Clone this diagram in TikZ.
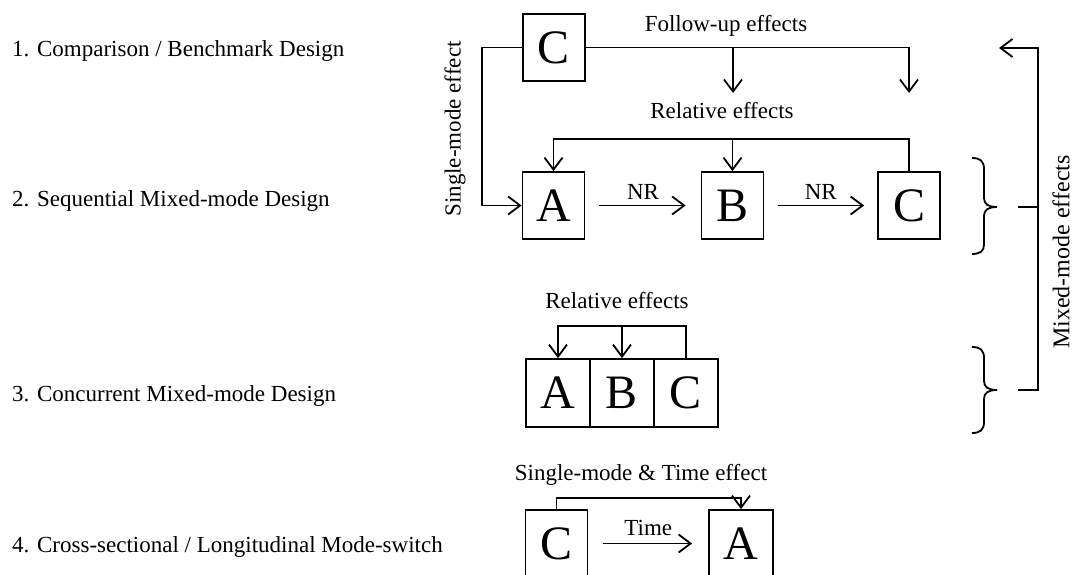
\documentclass[tikz,border=0pt]{standalone}
\usepackage{fontspec}
\setmainfont{Liberation Serif}
\usetikzlibrary{arrows.meta}

\tikzset{
  line/.style={line width=1.8pt},
  arr/.style={line width=1.8pt, -{Straight Barb[length=12pt,width=18pt]}},
  modebox/.style={draw, line width=1.8pt, minimum width=62pt, minimum height=67pt,
    inner sep=0pt, font=\fontsize{48}{48}\selectfont},
  cell/.style={modebox, minimum width=64pt, minimum height=68pt},
  lbl/.style={font=\fontsize{23}{25}\selectfont, inner sep=0pt},
  design/.style={lbl, anchor=base west},
}

\begin{document}
\begin{tikzpicture}[x=1pt, y=-1pt]
\useasboundingbox (0,0) rectangle (1074,575);
\clip (0,0) rectangle (1074,575);

% design names
\node[design] (d1) at (12,57)  {1. Comparison / Benchmark Design};
\node[design] (d2) at (12,206) {2. Sequential Mixed-mode Design};
\node[design] (d3) at (12,401) {3. Concurrent Mixed-mode Design};
\node[design] (d4) at (12,552) {4. Cross-sectional / Longitudinal Mode-switch};

% mode boxes
\node[modebox] (C0) at (554,47.5) {C};
\node[modebox] (A2) at (553.5,205.5) {A};
\node[modebox] (B2) at (732.5,205.5) {B};
\node[modebox] (C2) at (909,205.5) {C};
\node[cell] (A3) at (558,393) {A};
\node[cell] (B3) at (622,393) {B};
\node[cell] (C3) at (686,393) {C};
\node[modebox] (C4) at (556.5,543.5) {C};
\node[modebox, minimum width=64pt] (A4) at (741,543.5) {A};

% effect labels
\node[lbl, anchor=base] (fu)  at (726,32)  {Follow-up effects};
\node[lbl, anchor=base] (re2) at (722,119) {Relative effects};
\node[lbl, anchor=base] (re3) at (617,308) {Relative effects};
\node[lbl, anchor=base] (st)  at (641,480) {Single-mode \& Time effect};
\node[lbl, rotate=90] (sm) at (455,129) {Single-mode effect};
\node[lbl, rotate=90, font=\fontsize{24}{26}\selectfont] (mm) at (1061,252) {Mixed-mode effects};

% single-mode effect
\coordinate (smk) at (482,48);
\draw[arr] (C0.west) -- (C0.west -| smk) |- (A2.west);

% follow-up effects
\coordinate (fu1) at (733,93);
\coordinate (fu2) at (909,93);
\draw[arr] (C0.east) -| (fu2);
\draw[arr] (C0.east -| fu1) -- (fu1);

% relative effects, sequential design
\coordinate (r2) at (732.5,139);
\draw[arr] (C2.north) |- (r2) -| (A2.north);
\draw[arr] (r2) -- (B2.north);

% nonresponse follow-up
\draw[arr, shorten <=14pt, shorten >=15pt] (A2) -- node[lbl, above=5pt] (nr1) {NR} (B2);
\draw[arr, shorten <=14pt, shorten >=13pt] (B2) -- node[lbl, above=5pt] (nr2) {NR} (C2);

% relative effects, concurrent design
\coordinate (r3) at (622,326);
\draw[arr] (C3.north) |- (r3) -| (A3.north);
\draw[arr] (r3) -- (B3.north);

% mode switch over time
\coordinate (t4) at (0,498);
\draw[arr] (C4.north) |- (A4.north |- t4) -- (A4.north);
\draw[arr, shorten <=14.5pt, shorten >=16pt] (C4) -- node[lbl, above=7pt] (tm) {Time} (A4);

% braces
\draw[line] (972,158) .. controls (980,158) and (984,161) .. (984,169) -- (984,198)
  .. controls (984,204) and (988,207) .. (997,207)
  .. controls (988,207) and (984,210) .. (984,216) -- (984,245)
  .. controls (984,251) and (980,254) .. (972,254);
\draw[line] (972,347) .. controls (980,347) and (984,350) .. (984,358) -- (984,381)
  .. controls (984,387) and (988,390) .. (997,390)
  .. controls (988,390) and (984,393) .. (984,399) -- (984,422)
  .. controls (984,430) and (980,433) .. (972,433);

% mixed-mode effects
\coordinate (mt) at (1038,48);
\coordinate (mh) at (999,48);
\coordinate (b1) at (1018,207);
\coordinate (b2) at (1018,390);
\draw[line] (b1) -- (b1 -| mt);
\draw[arr] (b2) -| (mt) -- (mh);
\end{tikzpicture}
\end{document}
